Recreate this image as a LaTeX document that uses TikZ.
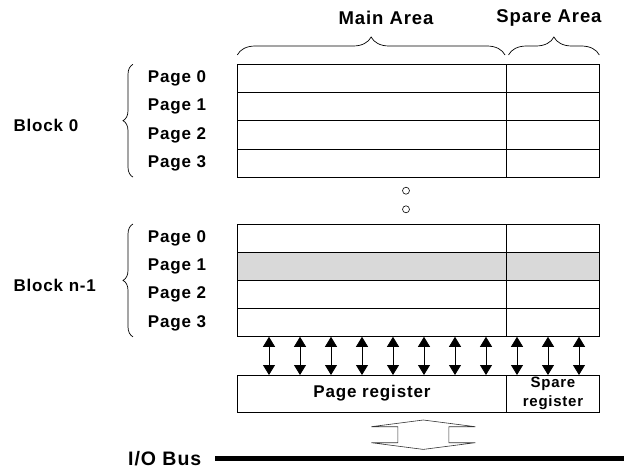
\documentclass[tikz,border=0pt]{standalone}
\usepackage{fontspec}
\setmainfont{Liberation Sans}[LetterSpace=5]
\usetikzlibrary{arrows.meta,positioning,calc,decorations.pathreplacing}

\begin{document}
\begin{tikzpicture}[x=1pt,y=-1pt,
  cell/.style={draw,line width=0.8pt,inner sep=0pt,outer sep=0pt,minimum height=28.2pt},
  mainc/.style={cell,minimum width=269.4pt},
  sparec/.style={cell,minimum width=92.6pt},
  shaded/.style={fill=black!15},
  lbl/.style={inner sep=0pt,font=\fontsize{17}{20}\selectfont\bfseries},
  toplbl/.style={inner sep=0pt,font=\fontsize{18.5}{22}\selectfont\bfseries},
  topbrace/.style={draw,line width=0.7pt,decorate,decoration={brace,amplitude=18pt}},
  sidebrace/.style={draw,line width=0.7pt,decorate,decoration={brace,amplitude=10pt}},
  both/.style={{Triangle[length=10pt,width=12pt]}-{Triangle[length=10pt,width=12pt]},line width=0.8pt}
]
\useasboundingbox (0,0) rectangle (624,471);

% pages of the two blocks
\foreach \b/\top in {0/64.3,1/224}{
  \foreach \p in {0,...,3}{
    \ifnum\b\p=11 \def\rowfill{shaded}\else\def\rowfill{}\fi
    \node[mainc,\rowfill,anchor=north west] (b\b-p\p-m) at (237.3,{\top+28.2*\p}) {};
    \node[sparec,\rowfill,right=0pt of b\b-p\p-m] (b\b-p\p-s) {};
    \node[lbl,anchor=west] (b\b-lbl\p) at (147.7,{\top+28.2*\p+14.4}) {Page \p};
  }
  \draw[sidebrace] ([xshift=-14.7pt]b\b-p3-m.south -| b\b-lbl3.west) -- ([xshift=-14.7pt]b\b-p0-m.north -| b\b-lbl0.west);
}
\node[lbl,anchor=west] (blk0) at (13.3,125) {Block 0};
\node[lbl,anchor=west] (blk1) at (13.3,285) {Block n-1};

% areas
\draw[topbrace] ([yshift=9.3pt]b0-p0-m.north west) -- ([yshift=9.3pt,xshift=-1.7pt]b0-p0-m.north east);
\draw[topbrace] ([yshift=9.3pt,xshift=1.8pt]b0-p0-s.north west) -- ([yshift=9.3pt]b0-p0-s.north east);
\node[toplbl] (mainarea) at (386,18.3) {Main Area};
\node[toplbl] (sparearea) at (549,18.3) {Spare Area};

% skipped blocks
\draw[line width=0.6pt] (406,190.7) circle (3.5);
\draw[line width=0.6pt] (406,209.3) circle (3.5);

% registers
\node[cell,minimum width=269.4pt,minimum height=37pt,anchor=north west,font=\fontsize{17}{20}\selectfont\bfseries] (preg) at (237.3,375) {Page register};
\node[cell,minimum width=92.6pt,minimum height=37pt,right=0pt of preg,align=center,font=\fontsize{15}{19.5}\selectfont\bfseries] (sreg) {Spare\\register};

\foreach \i in {0,...,10}
  \draw[both] ([xshift={(31.7+31*\i)*1pt}]b1-p3-m.south west) -- ([xshift={(31.7+31*\i)*1pt}]preg.north west);

% bus
\node[inner sep=0pt,font=\fontsize{19.5}{22}\selectfont\bfseries] (bus) at (164.7,458.5) {I/O Bus};
\coordinate (busend) at (624,458.5);
\draw[line width=5pt] ([xshift=14pt]bus.east) -- (busend);

\coordinate (io) at (423.3,434.7);
\begin{scope}[shift={(io)}]
\draw[line width=0.6pt,black!80] (-52,-8) -- (0,-14.7) -- (52,-8) -- (25.5,-8) -- (25.5,8) -- (52,8)
  -- (0,14.7) -- (-52,8) -- (-25.5,8) -- (-25.5,-8) -- cycle;
\end{scope}
\end{tikzpicture}
\end{document}
